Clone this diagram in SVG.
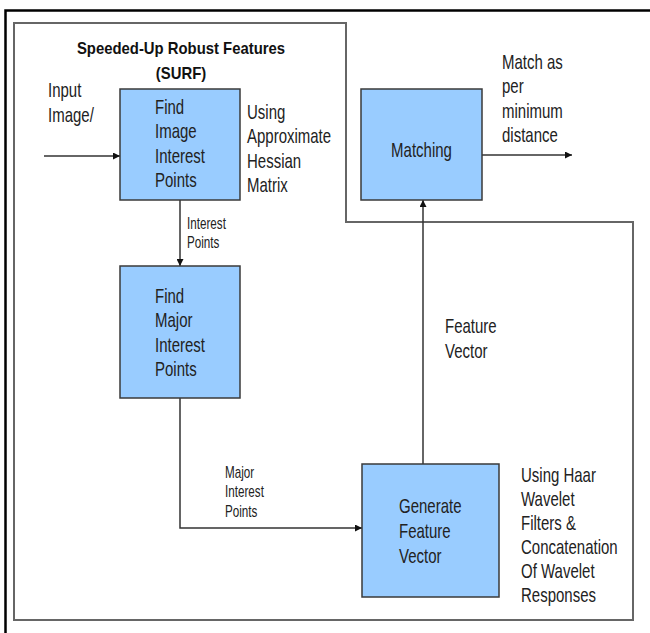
<svg xmlns="http://www.w3.org/2000/svg" width="650" height="633" viewBox="0 0 650 633">
<style>
.t{font-family:"Liberation Sans",Arial,sans-serif;font-size:20px;fill:#222}
.s{font-family:"Liberation Sans",Arial,sans-serif;font-size:16px;fill:#222}
.b{font-family:"Liberation Sans",Arial,sans-serif;font-size:16px;font-weight:bold;fill:#111}
.box{fill:#99CCFF;stroke:#3a3a3a;stroke-width:1.5}
.c{fill:none;stroke:#333;stroke-width:1.5}
</style>
<defs>
<marker id="ah" viewBox="0 0 10 10" refX="10" refY="5" markerWidth="7" markerHeight="7" markerUnits="userSpaceOnUse" orient="auto">
<path d="M0,0 L10,5 L0,10 z" fill="#111"/>
</marker>
</defs>
<rect width="650" height="633" fill="#fff"/>
<path d="M5.5,640 V10.5 H660" fill="none" stroke="#000" stroke-width="2.5"/>
<path d="M14,23 H346 V222 H633 V620 H14 Z" fill="none" stroke="#666" stroke-width="2"/>
<g id="title">
<text class="b" text-anchor="middle" transform="matrix(0.93 0 0 1 181 54)"><tspan x="0">Speeded-Up Robust Features</tspan><tspan x="0" dy="25">(SURF)</tspan></text>
</g>
<g id="connectors">
<line class="c" x1="44" y1="156" x2="120" y2="156" marker-end="url(#ah)"/>
<line class="c" x1="180" y1="200" x2="180" y2="266" marker-end="url(#ah)"/>
<polyline class="c" points="180,398 180,528 362,528" marker-end="url(#ah)"/>
<line class="c" x1="423" y1="464" x2="423" y2="200" marker-end="url(#ah)"/>
<line class="c" x1="482" y1="155" x2="572" y2="155" marker-end="url(#ah)"/>
<text class="s" transform="matrix(0.73 0 0 1 187 229)"><tspan x="0">Interest</tspan><tspan x="0" dy="19">Points</tspan></text>
<text class="s" transform="matrix(0.73 0 0 1 225 478)"><tspan x="0">Major</tspan><tspan x="0" dy="19.5">Interest</tspan><tspan x="0" dy="19.5">Points</tspan></text>
<text class="t" transform="matrix(0.75 0 0 1 445 333)"><tspan x="0">Feature</tspan><tspan x="0" dy="25">Vector</tspan></text>
<text class="t" transform="matrix(0.75 0 0 1 48 97)"><tspan x="0">Input</tspan><tspan x="0" dy="25">Image/</tspan></text>
<text class="t" transform="matrix(0.75 0 0 1 502 69)"><tspan x="0">Match as</tspan><tspan x="0" dy="24.5">per</tspan><tspan x="0" dy="24.5">minimum</tspan><tspan x="0" dy="24.5">distance</tspan></text>
</g>
<g id="find-image-interest-points">
<rect class="box" x="120" y="89" width="120" height="111"/>
<text class="t" transform="matrix(0.75 0 0 1 155 114)"><tspan x="0">Find</tspan><tspan x="0" dy="24.5">Image</tspan><tspan x="0" dy="24.5">Interest</tspan><tspan x="0" dy="24.5">Points</tspan></text>
<text class="t" transform="matrix(0.75 0 0 1 247 119)"><tspan x="0">Using</tspan><tspan x="0" dy="24.5">Approximate</tspan><tspan x="0" dy="24.5">Hessian</tspan><tspan x="0" dy="24.5">Matrix</tspan></text>
</g>
<g id="find-major-interest-points">
<rect class="box" x="120" y="266" width="120" height="132"/>
<text class="t" transform="matrix(0.75 0 0 1 155 303)"><tspan x="0">Find</tspan><tspan x="0" dy="24.5">Major</tspan><tspan x="0" dy="24.5">Interest</tspan><tspan x="0" dy="24.5">Points</tspan></text>
</g>
<g id="matching">
<rect class="box" x="361" y="89" width="121" height="111"/>
<text class="t" text-anchor="middle" transform="matrix(0.75 0 0 1 421.5 157)">Matching</text>
</g>
<g id="generate-feature-vector">
<rect class="box" x="362" y="464" width="137" height="133"/>
<text class="t" transform="matrix(0.75 0 0 1 399 513)"><tspan x="0">Generate</tspan><tspan x="0" dy="25">Feature</tspan><tspan x="0" dy="25">Vector</tspan></text>
<text class="t" transform="matrix(0.75 0 0 1 521 482)"><tspan x="0">Using Haar</tspan><tspan x="0" dy="24">Wavelet</tspan><tspan x="0" dy="24">Filters &amp;</tspan><tspan x="0" dy="24">Concatenation</tspan><tspan x="0" dy="24">Of Wavelet</tspan><tspan x="0" dy="24">Responses</tspan></text>
</g>
</svg>
